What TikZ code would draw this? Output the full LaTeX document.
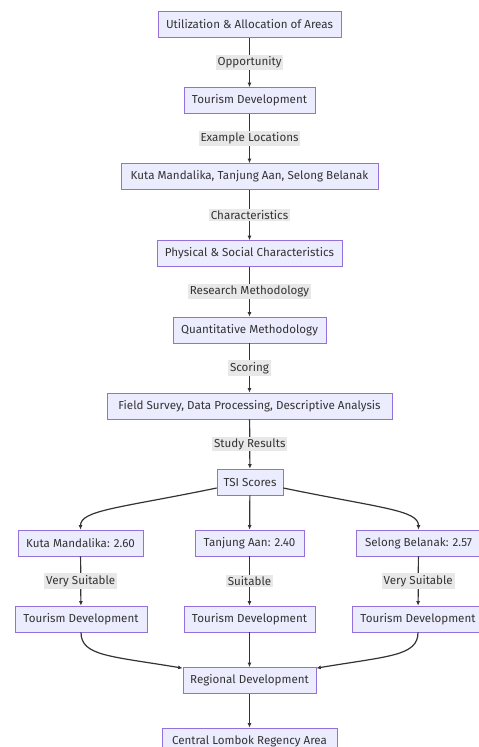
\documentclass[tikz,border=0pt]{standalone}
\usepackage{fontspec}
\setmainfont{Fira Sans}
\usetikzlibrary{arrows.meta,calc}
\definecolor{boxfill}{HTML}{ECECFF}
\definecolor{boxline}{HTML}{9370DB}
\definecolor{edgecol}{HTML}{333333}
\definecolor{lblfill}{HTML}{E8E8E8}
\definecolor{txt}{HTML}{333333}
\begin{document}
\begin{tikzpicture}[x=1pt,y=-1pt,
  font=\fontsize{11.6}{14}\selectfont, text=txt,
  box/.style={draw=boxline, fill=boxfill, line width=0.7pt, inner sep=0pt, minimum height=26pt},
  lbl/.style={fill=lblfill, inner sep=1.8pt, font=\fontsize{11.6}{14}\selectfont},
  edge/.style={draw=edgecol, line width=1.2pt, -{Latex[length=4.5pt,width=4pt]}}]
\useasboundingbox (0,0) rectangle (479,747);
\node[box, minimum width=183pt] (b1) at (249.5,24.5) {Utilization \& Allocation of Areas};
\node[box, minimum width=131pt] (b2) at (249.5,100.5) {Tourism Development};
\node[box, minimum width=257pt] (b3) at (249.5,176.5) {Kuta Mandalika, Tanjung Aan, Selong Belanak};
\node[box, minimum width=185pt] (b4) at (249.5,253.5) {Physical \& Social Characteristics};
\node[box, minimum width=153pt] (b5) at (249.5,330) {Quantitative Methodology};
\node[box, minimum width=285pt] (b6) at (249.5,406) {Field Survey, Data Processing, Descriptive Analysis};
\node[box, minimum width=66pt] (tsi) at (250,482) {TSI Scores};
\node[box, minimum width=125pt] (km) at (80.5,543) {Kuta Mandalika: 2.60};
\node[box, minimum width=109pt] (ta) at (249.5,543) {Tanjung Aan: 2.40};
\node[box, minimum width=125pt] (sb) at (418.5,543) {Selong Belanak: 2.57};
\node[box, minimum width=132pt] (td1) at (81,619) {Tourism Development};
\node[box, minimum width=131pt] (td2) at (249.5,619) {Tourism Development};
\node[box, minimum width=131pt] (td3) at (418,619) {Tourism Development};
\node[box, minimum width=133pt] (rd) at (249.5,680.5) {Regional Development};
\node[box, minimum width=175pt] (cl) at (249.5,741) {Central Lombok Regency Area};

\draw[edge] (b1) -- node[lbl] {Opportunity} (b2);
\draw[edge] (b2) -- node[lbl] {Example Locations} (b3);
\draw[edge] (b3) -- node[lbl] {Characteristics} (b4);
\draw[edge] (b4) -- node[lbl] {Research Methodology} (b5);
\draw[edge] (b5) -- node[lbl] {Scoring} (b6);
\draw[edge] (b6) -- node[lbl] {Study Results} (tsi);
\draw[edge] (tsi) -- (ta);
\draw[edge] ($(tsi.west)+(0,6)$) .. controls (120,508) and (80.5,510) .. (km.north);
\draw[edge] ($(tsi.east)+(0,6)$) .. controls (380,508) and (418.5,510) .. (sb.north);
\draw[edge] (km) -- node[lbl] {Very Suitable} (td1);
\draw[edge] (ta) -- node[lbl] {Suitable} (td2);
\draw[edge] (sb) -- node[lbl] {Very Suitable} (td3);
\draw[edge] (td1.south) .. controls (81,656) and (110,656) .. ($(rd.north west)+(0,1)$);
\draw[edge] (td3.south) .. controls (418,656) and (389,656) .. ($(rd.north east)+(0,1)$);
\draw[edge] (td2) -- (rd);
\draw[edge] (rd) -- (cl);
\end{tikzpicture}
\end{document}
